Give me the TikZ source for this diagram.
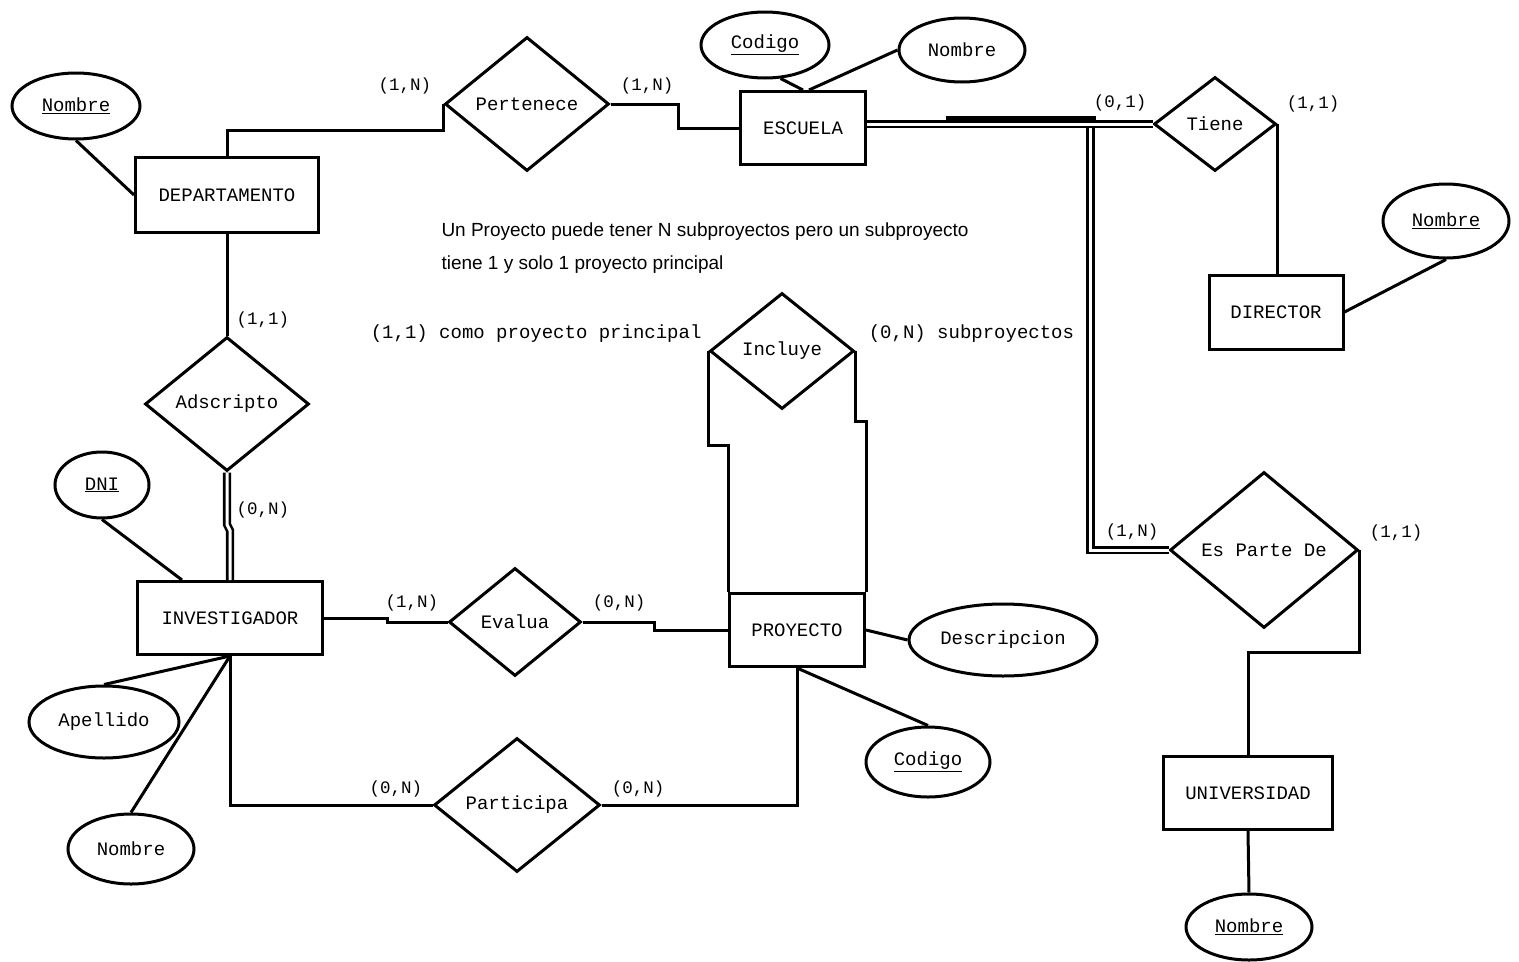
\documentclass[tikz,border=0pt]{standalone}
\usepackage{fontspec}
\setmonofont{Liberation Mono}
\newfontfamily\notafont{Liberation Sans}
\usetikzlibrary{shapes}
\usetikzlibrary{backgrounds}

\begin{document}
\begin{tikzpicture}[x=1pt,y=-1pt,line width=3pt,
  every node/.style={font=\ttfamily\fontsize{19}{22}\selectfont},
  ent/.style={draw,rectangle,inner sep=0pt},
  rel/.style={draw,diamond,inner sep=0pt},
  atr/.style={draw,ellipse,inner sep=0pt},
  card/.style={font=\ttfamily\fontsize{17.5}{20}\selectfont},
  nota/.style={font=\notafont\fontsize{19}{22}\selectfont,inner sep=0pt},
  doble/.style={double,double distance=3pt,line width=2.6pt}]
\fill [white] (0,0) rectangle (1519,960);
% entidades
\node [ent,minimum width=183,minimum height=75] (dep) at (227,195) {DEPARTAMENTO};
\node [ent,minimum width=125,minimum height=73] (esc) at (803,128) {ESCUELA};
\node [ent,minimum width=134,minimum height=74] (dir) at (1276,312) {DIRECTOR};
\node [ent,minimum width=185,minimum height=73] (inv) at (230,618) {INVESTIGADOR};
\node [ent,minimum width=135,minimum height=73] (pro) at (797,630) {PROYECTO};
\node [ent,minimum width=169,minimum height=73] (uni) at (1248,793) {UNIVERSIDAD};
% relaciones
\node [rel,minimum width=164,minimum height=134] (pert) at (527,104) {Pertenece};
\node [rel,minimum width=122,minimum height=94] (tiene) at (1215,124) {Tiene};
\node [rel,minimum width=164,minimum height=134] (ads) at (227,404) {Adscripto};
\node [rel,minimum width=144,minimum height=116] (incl) at (782,351) {Incluye};
\node [rel,minimum width=132,minimum height=108] (eval) at (515,622) {Evalua};
\node [rel,minimum width=166,minimum height=134] (part) at (517,805) {Participa};
\node [rel,minimum width=188,minimum height=156] (espd) at (1264,550) {Es Parte De};
% atributos
\node [atr,minimum width=128,minimum height=66] (depnom) at (76,106) {\underline{Nombre}};
\node [atr,minimum width=128,minimum height=66] (esccod) at (765,45) {\underline{Codigo}};
\node [atr,minimum width=126,minimum height=64] (escnom) at (962,50) {Nombre};
\node [atr,minimum width=126,minimum height=74] (dirnom) at (1446,221) {\underline{Nombre}};
\node [atr,minimum width=94,minimum height=66] (dni) at (102,485) {\underline{DNI}};
\node [atr,minimum width=150,minimum height=72] (ape) at (104,722) {Apellido};
\node [atr,minimum width=126,minimum height=70] (invnom) at (131,849) {Nombre};
\node [atr,minimum width=188,minimum height=72] (desc) at (1003,640) {Descripcion};
\node [atr,minimum width=124,minimum height=70] (procod) at (928,762) {\underline{Codigo}};
\node [atr,minimum width=126,minimum height=66] (uninom) at (1249,927) {\underline{Nombre}};
% conectores
\draw (dep.north) |- ([yshift=-26pt]pert.west) -- (pert.west);
\draw (pert.east) -- ++(68,0) |- (esc.west);
\coordinate (nudo) at (946,121);
\draw [doble] (nudo) -| ([xshift=-78pt]espd.west) -- (espd.west);
\draw [line width=7pt] ([yshift=1.5pt]nudo) -- ++(150,0);
\draw [doble] (esc.east |- tiene.west) -- (tiene.west);
\draw (tiene.east) -- (tiene.east |- dir.north);
\draw (dir.east) -- (dirnom.south);
\draw (esc.north) -- (esccod.-65);
\draw ([xshift=6pt]esc.north) -- (escnom.west);
\draw (dep.west) -- (depnom.south);
\draw (dep.south) -- (ads.north);
\draw [doble] (ads.south) -- ++(0,52) -- ++(3,6) -- (inv.north);
\draw (dni.south) -- ([xshift=-48pt]inv.north);
\draw (inv.south) -- (ape.north);
\draw (inv.south) -- (invnom.north);
\draw (inv.east) -- ++(63,0) |- (eval.west);
\draw (eval.east) -- ++(72,0) |- (pro.west);
\draw (inv.south) |- (part.west);
\draw (part.east) -| (pro.south);
\draw (pro.east) -- (desc.west);
\draw (pro.south) -- (procod.north);
\draw (incl.west) -- ++(0,94) -| (pro.north west);
\draw (incl.east) -- ++(0,70) -| (pro.north east);
\draw (espd.east) -- ++(0,102) -| (uni.north);
\draw (uni.south) -- (uninom.north);
% cardinalidades
\node [card] (c1) at (405,86) {(1,N)};
\node [card] (c2) at (647,86) {(1,N)};
\node [card] (c3) at (1120,103) {(0,1)};
\node [card] (c4) at (1313,104) {(1,1)};
\node [card] (c5) at (263,320) {(1,1)};
\node [card] (c6) at (263,510) {(0,N)};
\node [card] (c7) at (412,603) {(1,N)};
\node [card] (c8) at (619,603) {(0,N)};
\node [card] (c9) at (396,789) {(0,N)};
\node [card] (c10) at (638,789) {(0,N)};
\node [card] (c11) at (1132,532) {(1,N)};
\node [card] (c12) at (1396,533) {(1,1)};
\node [anchor=west] (ppal) at (366,334) {(1,1) como proyecto principal};
\node [anchor=west] (sub) at (864,334) {(0,N) subproyectos};
% nota
\node [nota,anchor=base west] (nota1) at (440,236) {Un Proyecto puede tener N subproyectos pero un subproyecto};
\node [nota,anchor=base west] (nota2) at ([yshift=-33pt]nota1.base west) {tiene 1 y solo 1 proyecto principal};
\end{tikzpicture}
\end{document}
